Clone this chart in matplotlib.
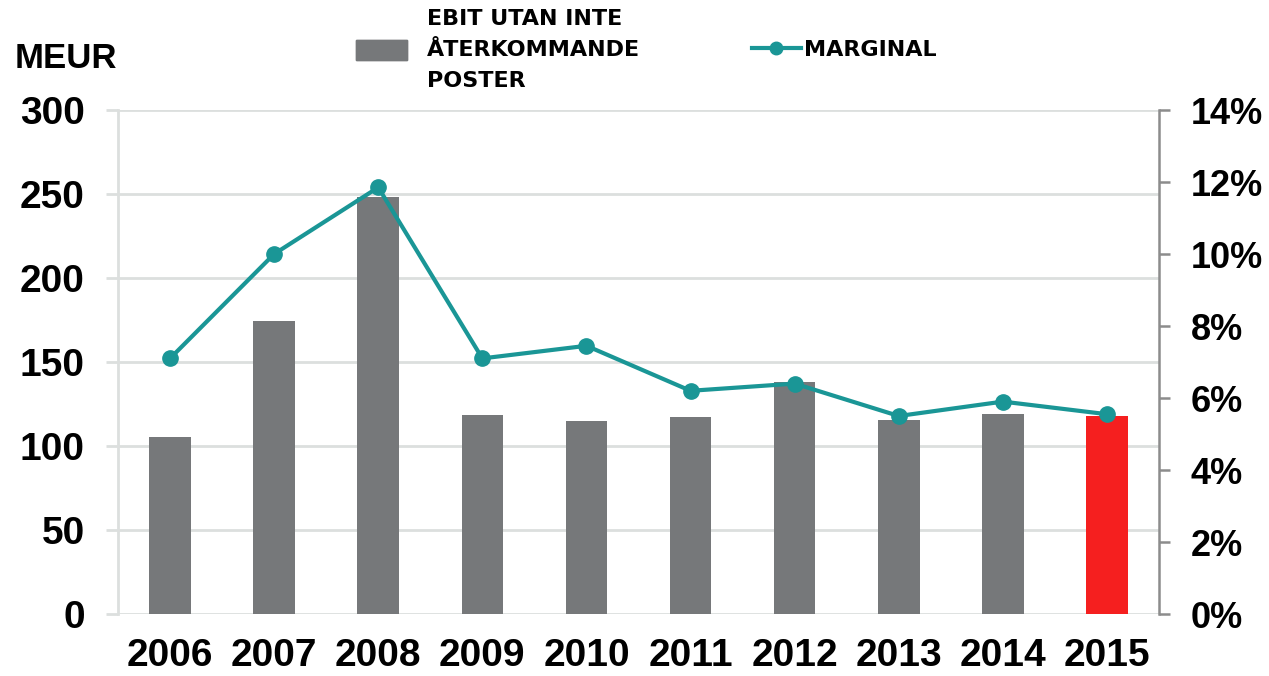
import matplotlib
matplotlib.use("Agg")
from matplotlib import pyplot as plt
from matplotlib.patches import Patch
from matplotlib.lines import Line2D
import numpy as np

# data
years = ["2006", "2007", "2008", "2009", "2010", "2011", "2012", "2013", "2014", "2015"]
ebit = [105.5, 174.5, 248.5, 118.5, 115, 117.5, 138, 115.5, 119, 118]
marginal = [7.1, 10.0, 11.85, 7.1, 7.45, 6.2, 6.4, 5.5, 5.9, 5.55]
left_ticks = [0, 50, 100, 150, 200, 250, 300]
right_ticks = [0, 2, 4, 6, 8, 10, 12, 14]

gray = "#76787a"
red = "#f51f1f"
teal = "#1a9696"
gridc = "#dcdfde"

plt.rcParams["font.family"] = ["Liberation Sans", "DejaVu Sans"]
plt.rcParams["font.weight"] = "bold"

fig = plt.figure(figsize=(12.69, 6.76), dpi=100)
ax = fig.add_axes([118/1269, 62/676, (1159-118)/1269, (614-110)/676])

x = np.arange(len(years))
colors = [gray]*(len(years)-1) + [red]
ax.bar(x, ebit, width=0.4, color=colors, zorder=2)
ax.set_xlim(-0.5, len(years)-0.5)
ax.set_ylim(0, 300)
ax.set_yticks(left_ticks)
ax.set_xticks(x)
ax.set_xticklabels(years)
ax.yaxis.grid(True, color=gridc, lw=2, zorder=0)
ax.set_axisbelow(True)
for s in ["top", "right", "bottom"]:
    ax.spines[s].set_visible(False)
ax.spines["left"].set_color(gridc)
ax.spines["left"].set_linewidth(2)
ax.tick_params(axis="y", direction="out", length=9, width=2, color=gridc,
               labelsize=28, pad=15)
ax.tick_params(axis="x", length=0, labelsize=28, pad=17)

ax2 = ax.twinx()
ax2.plot(x, marginal, color=teal, lw=3, marker="o", ms=11, zorder=3)
ax2.set_ylim(0, 14)
ax2.set_yticks(right_ticks)
ax2.set_yticklabels([str(t) + "%" for t in right_ticks])
for s in ["top", "left", "bottom"]:
    ax2.spines[s].set_visible(False)
ax2.spines["right"].set_color("#8c8c8c")
ax2.spines["right"].set_linewidth(1.8)
ax2.tick_params(axis="y", direction="out", length=8, width=1.8, color="#8c8c8c",
                labelsize=26, pad=15)

fig.text(15/1269, 1-68/676, "MEUR", fontsize=25, va="baseline", ha="left")

# legend
legfont = {"family": ["Liberation Sans Narrow", "DejaVu Sans"], "weight": "bold", "size": 16}
leg1 = fig.legend(handles=[Patch(color=gray)], labels=[""],
                  loc="center left", bbox_to_anchor=(356/1269, 1-51/676), frameon=False,
                  borderpad=0, borderaxespad=0, handlelength=2.3, handleheight=1.0,
                  handletextpad=0, prop=legfont)
fig.add_artist(leg1)
fig.text(427/1269, 1-50/676, "EBIT UTAN INTE\nÅTERKOMMANDE\nPOSTER", ha="left", va="center",
         linespacing=1.7, **legfont)
fig.legend(handles=[Line2D([], [], color=teal, lw=3, marker="o", ms=9)], labels=["MARGINAL"],
           loc="center left", bbox_to_anchor=(752/1269, 1-50/676), frameon=False,
           borderpad=0, borderaxespad=0, handlelength=2.2, handletextpad=0.15, prop=legfont)

fig.savefig("out.png", dpi=100)
